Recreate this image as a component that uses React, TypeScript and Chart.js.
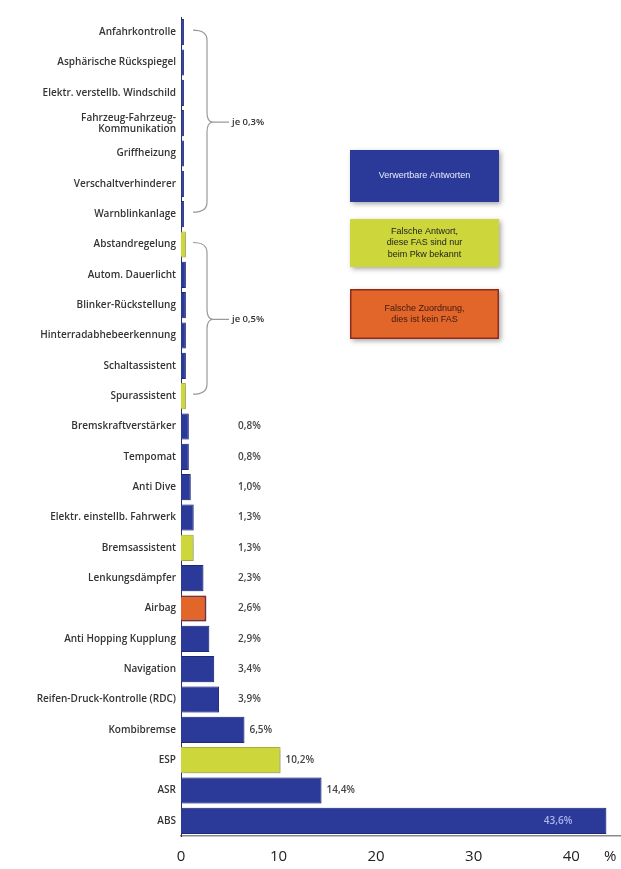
import React, { useEffect, useRef } from "react";
import { Chart, registerables } from "chart.js";

Chart.register(...registerables);

const categories: (string | string[])[] = [
  "Anfahrkontrolle",
  "Asphärische Rückspiegel",
  "Elektr. verstellb. Windschild",
  ["Fahrzeug-Fahrzeug-", "Kommunikation"],
  "Griffheizung",
  "Verschaltverhinderer",
  "Warnblinkanlage",
  "Abstandregelung",
  "Autom. Dauerlicht",
  "Blinker-Rückstellung",
  "Hinterradabhebeerkennung",
  "Schaltassistent",
  "Spurassistent",
  "Bremskraftverstärker",
  "Tempomat",
  "Anti Dive",
  "Elektr. einstellb. Fahrwerk",
  "Bremsassistent",
  "Lenkungsdämpfer",
  "Airbag",
  "Anti Hopping Kupplung",
  "Navigation",
  "Reifen-Druck-Kontrolle (RDC)",
  "Kombibremse",
  "ESP",
  "ASR",
  "ABS",
];

const values: number[] = [
  0.3, 0.3, 0.3, 0.3, 0.3, 0.3, 0.3,
  0.5, 0.5, 0.5, 0.5, 0.5, 0.5,
  0.8, 0.8, 1.0, 1.3, 1.3, 2.3, 2.6, 2.9, 3.4, 3.9, 6.5, 10.2, 14.4, 43.6,
];

// u = verwertbar, p = nur beim Pkw bekannt, f = kein FAS
const groups: string[] = [
  "u", "u", "u", "u", "u", "u", "u",
  "p", "u", "u", "u", "u", "p",
  "u", "u", "u", "u", "p", "u", "f", "u", "u", "u", "u", "p", "u", "u",
];

const valueLabels: (string | null)[] = [
  null, null, null, null, null, null, null,
  null, null, null, null, null, null,
  "0,8%", "0,8%", "1,0%", "1,3%", "1,3%", "2,3%", "2,6%", "2,9%", "3,4%", "3,9%",
  "6,5%", "10,2%", "14,4%", "43,6%",
];

const braces = [
  { from: 0, to: 6, label: "je 0,3%" },
  { from: 7, to: 12, label: "je 0,5%" },
];

const xTickValues: number[] = [0, 10, 20, 30, 40, 44];
const xTickLabels: string[] = ["0", "10", "20", "30", "40", "%"];

const legendItems = [
  { key: "u", lines: ["Verwertbare Antworten"] },
  { key: "p", lines: ["Falsche Antwort,", "diese FAS sind nur", "beim Pkw bekannt"] },
  { key: "f", lines: ["Falsche Zuordnung,", "dies ist kein FAS"] },
];

const fill: Record<string, string> = { u: "#2b3a98", p: "#cdd63a", f: "#e2652a" };
const edge: Record<string, string> = { u: "#1d2672", p: "#b4bb2e", f: "#8e2c1c" };
const legendText: Record<string, string> = { u: "#e8ecff", p: "#222", f: "#3a1a10" };

const FONT = "'Open Sans', 'DejaVu Sans', sans-serif";

const overlayPlugin = {
  id: "overlay",
  beforeDatasetsDraw(chart: any) {
    const ctx = chart.ctx;
    ctx.save();
    ctx.shadowColor = "rgba(50,60,150,0.35)";
    ctx.shadowBlur = 4;
    ctx.shadowOffsetX = 2;
    ctx.shadowOffsetY = 1;
  },
  afterDatasetsDraw(chart: any) {
    const ctx = chart.ctx;
    ctx.restore();
    const xs = chart.scales.x;
    const ys = chart.scales.y;
    const area = chart.chartArea;

    // value labels
    ctx.save();
    ctx.font = `600 10px ${FONT}`;
    ctx.textBaseline = "middle";
    values.forEach((v, i) => {
      const lab = valueLabels[i];
      if (!lab) return;
      const y = ys.getPixelForValue(i);
      const end = xs.getPixelForValue(v);
      if (v > 30) {
        ctx.fillStyle = "#a9b6ec";
        ctx.textAlign = "right";
        ctx.fillText(lab, end - 34, y);
      } else {
        ctx.fillStyle = "#444";
        ctx.textAlign = "left";
        ctx.fillText(lab, Math.max(end + 5, area.left + 57), y);
      }
    });
    ctx.restore();

    // braces
    ctx.save();
    ctx.strokeStyle = "#9a9a9a";
    ctx.lineWidth = 1.2;
    braces.forEach((b) => {
      const y1 = ys.getPixelForValue(b.from) - 2;
      const y2 = ys.getPixelForValue(b.to) - 2;
      const ym = (y1 + y2) / 2 + 1;
      const x0 = area.left + 12;
      const xm = area.left + 26;
      const xt = area.left + 32;
      const r = 10;
      ctx.beginPath();
      ctx.moveTo(x0, y1);
      ctx.quadraticCurveTo(xm, y1, xm, y1 + r);
      ctx.lineTo(xm, ym - r);
      ctx.quadraticCurveTo(xm, ym, xt, ym);
      ctx.quadraticCurveTo(xm, ym, xm, ym + r);
      ctx.lineTo(xm, y2 - r);
      ctx.quadraticCurveTo(xm, y2, x0, y2);
      ctx.moveTo(xt, ym);
      ctx.lineTo(xt + 16, ym);
      ctx.stroke();
      ctx.fillStyle = "#333";
      ctx.font = `600 9.5px ${FONT}`;
      ctx.textAlign = "left";
      ctx.textBaseline = "middle";
      ctx.fillText(b.label, xt + 19, ym);
    });
    ctx.restore();

    // legend boxes
    ctx.save();
    const bx = 350;
    const bw = 149;
    const tops = [150, 219, 289];
    const heights = [52, 48, 50];
    legendItems.forEach((it, k) => {
      const top = tops[k];
      const h = heights[k];
      ctx.save();
      ctx.shadowColor = "rgba(0,0,0,0.35)";
      ctx.shadowBlur = 5;
      ctx.shadowOffsetX = 2;
      ctx.shadowOffsetY = 2;
      ctx.fillStyle = fill[it.key];
      ctx.fillRect(bx, top, bw, h);
      ctx.restore();
      if (it.key === "f") {
        ctx.strokeStyle = edge.f;
        ctx.lineWidth = 1.5;
        ctx.strokeRect(bx + 0.75, top + 0.75, bw - 1.5, h - 1.5);
      }
      ctx.fillStyle = legendText[it.key];
      ctx.font = `9px 'Liberation Sans', Arial, sans-serif`;
      ctx.textAlign = "center";
      ctx.textBaseline = "middle";
      const lh = 11.5;
      const startY = top + h / 2 - ((it.lines.length - 1) * lh) / 2;
      it.lines.forEach((ln, j) => ctx.fillText(ln, bx + bw / 2, startY + j * lh));
    });
    ctx.restore();
  },
};

export default function App() {
  const ref = useRef<HTMLCanvasElement | null>(null);
  useEffect(() => {
    if (!ref.current) return;
    const chart = new Chart(ref.current, {
      type: "bar",
      data: {
        labels: categories as any,
        datasets: [
          {
            data: values,
            backgroundColor: groups.map((g) => fill[g]),
            borderColor: groups.map((g) => edge[g]),
            borderWidth: groups.map((g) => (g === "f" ? 2 : 1)),
            barPercentage: 0.86,
            categoryPercentage: 1,
          },
        ],
      },
      options: {
        indexAxis: "y",
        animation: false,
        responsive: false,
        maintainAspectRatio: false,
        layout: { padding: { top: 17, right: 1, left: 0, bottom: 0 } },
        plugins: { legend: { display: false }, tooltip: { enabled: false } },
        scales: {
          x: {
            type: "linear",
            min: 0,
            max: 45,
            grid: { display: false, drawTicks: false },
            border: { display: true, color: "#8a8a8a", width: 1.5 },
            afterBuildTicks: (scale: any) => {
              scale.ticks = xTickValues.map((v) => ({ value: v }));
            },
            afterFit: (scale: any) => {
              scale.height = 33;
              scale.paddingRight = 0;
              scale.paddingLeft = 0;
            },
            ticks: {
              padding: 12,
              color: "#222",
              font: { family: FONT, size: 15 },
              callback: (v: any) => {
                const i = xTickValues.indexOf(Number(v));
                return i >= 0 ? xTickLabels[i] : "";
              },
              maxRotation: 0,
            },
          },
          y: {
            type: "category",
            grid: { display: false, drawTicks: false },
            border: { display: true, color: "#2a2f6a", width: 1 },
            afterFit: (scale: any) => {
              scale.width = 181;
            },
            ticks: {
              padding: 5,
              color: "#333",
              autoSkip: false,
              font: { family: FONT, size: 10, weight: 600, lineHeight: 1.1 },
            },
          },
        },
      },
      plugins: [overlayPlugin],
    } as any);
    return () => chart.destroy();
  }, []);
  return (
    <div style={{ position: "fixed", left: 0, top: 0, width: 621, height: 869, background: "#fff" }}>
      <canvas ref={ref} width={621} height={869} style={{ width: 621, height: 869, display: "block" }} />
    </div>
  );
}
